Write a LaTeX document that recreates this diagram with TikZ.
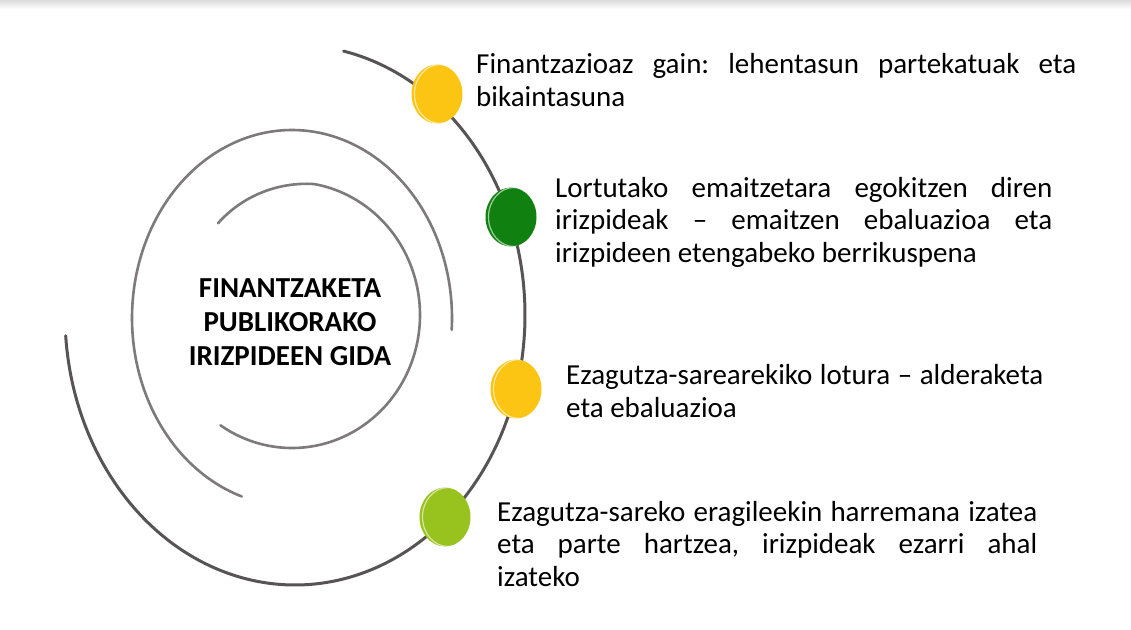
\documentclass[tikz,border=0pt]{standalone}
\usepackage{fontspec}
\setmainfont{Carlito}
\usetikzlibrary{shapes.geometric,positioning}
\frenchspacing

\definecolor{ballyellow}{RGB}{252,197,20}
\definecolor{balldgreen}{RGB}{16,128,16}
\definecolor{balllgreen}{RGB}{152,194,30}
\definecolor{arcgray}{RGB}{88,84,86}
\definecolor{arclight}{RGB}{126,122,124}

\begin{document}
\begin{tikzpicture}[x=1pt, y=-1pt,
    outerarc/.style={draw=arcgray, line width=3pt, line cap=round},
    innerarc/.style={draw=arclight, line width=2.6pt, line cap=round},
    ball/.style={ellipse, minimum width=51pt, minimum height=59pt, inner sep=0pt,
        path picture={\draw[white, opacity=.6, line width=1.2pt]
            ([xshift=3pt]path picture bounding box.center)
            ellipse [x radius=25.5pt, y radius=29.5pt];}},
    item/.style={anchor=west, align=justify, inner sep=0pt,
        font=\fontsize{29}{32.5}\selectfont},
    title/.style={align=center, inner sep=0pt,
        font=\fontsize{29}{34}\selectfont\bfseries}]
    \useasboundingbox (0,0) rectangle (1131,629);
    \fill[white] (0,0) rectangle (1131,629);
    \shade[top color=black!14, bottom color=white] (0,0) rectangle (1131,9);

    % Spiral arcs
    \draw[outerarc] plot[domain=175.6:-77.8, samples=120, smooth]
        ({295+230*cos(\x)}, {315+270*sin(\x)});
    \draw[innerarc] plot[domain=3.6:-251.7, samples=120, smooth]
        ({292+160*cos(\x)}, {318+188*sin(\x)});
    \draw[innerarc] plot[domain=-130:124, samples=120, smooth]
        ({292+128*min(1,0.9+0.002*(\x+130))*cos(\x)},
         {315+133*min(1,0.9+0.002*(\x+130))*sin(\x)});

    % Title
    \node[title] (guide) at (290,322) {FINANTZAKETA\\PUBLIKORAKO\\IRIZPIDEEN GIDA};

    % Balls on the spiral
    \node[ball, fill=ballyellow] (b1) at (437,94) {};
    \node[ball, fill=balldgreen] (b2) at (511,217) {};
    \node[ball, fill=ballyellow] (b3) at (516,389) {};
    \node[ball, fill=balllgreen] (b4) at (445,517) {};

    % Texts
    \node[item, text width=600pt] (t1) at (476,80) {Finantzazioaz gain: lehentasun
        partekatuak eta\linebreak bikaintasuna};
    \node[item, text width=497pt] (t2) at (555,222) {Lortutako emaitzetara egokitzen
        diren\linebreak irizpideak -- emaitzen ebaluazioa eta\linebreak irizpideen
        etengabeko berrikuspena};
    \node[item, text width=477pt] (t3) at (566,391) {Ezagutza-sarearekiko lotura --
        alderaketa\linebreak eta ebaluazioa};
    \node[item, text width=540pt] (t4) at (497,544) {Ezagutza-sareko eragileekin
        harremana izatea\linebreak eta parte hartzea, irizpideak ezarri
        ahal\linebreak izateko};
\end{tikzpicture}
\end{document}
